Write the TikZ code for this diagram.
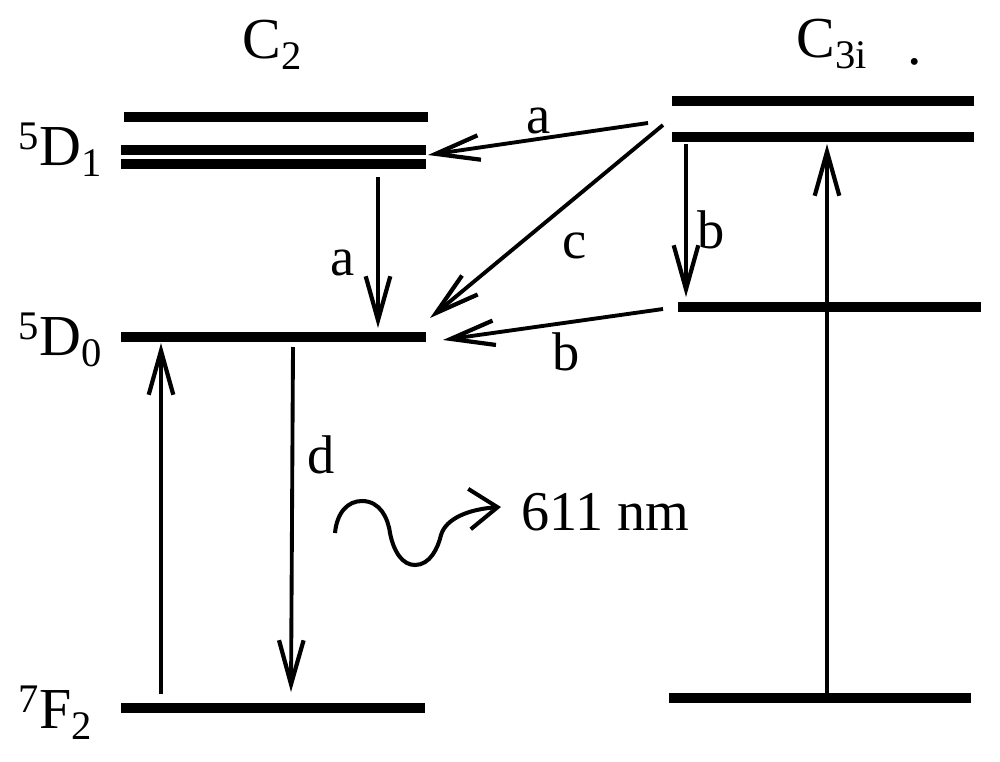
\documentclass[tikz,border=0pt]{standalone}
\usepackage{fontspec}
\setmainfont{Liberation Serif}
\usetikzlibrary{arrows.meta}
\tikzset{
  level/.style={line width=5.5pt},
  trans/.style={line width=2.2pt,-{Straight Barb[length=25pt,width=14pt,line width=2.4pt]}},
  lbl/.style={font=\fontsize{31}{36}\selectfont,inner sep=0pt,anchor=base},
  term/.style={font=\fontsize{33}{38}\selectfont,inner sep=0pt,anchor=base west},
}
\begin{document}
\begin{tikzpicture}[x=0.02cm,y=-0.02cm]
  \useasboundingbox (0,0) rectangle (1000,761);
  % site labels
  \node[term] (cTwo) at (242,58) {C\textsubscript{2}};
  \node[term] (cThree) at (796,57) {C\textsubscript{3i}};
  \node[term] (dot) at (907,64) {.};
  % term labels
  \node[term] (termDOne) at (18,165) {\textsuperscript{5}D\textsubscript{1}};
  \node[term] (termDZero) at (18,355) {\textsuperscript{5}D\textsubscript{0}};
  \node[term] (termFTwo) at (18,728) {\textsuperscript{7}F\textsubscript{2}};
  % levels of C2
  \foreach \name/\xa/\xb/\yy in {la/124/428/117,lb/121/426/150,lc/121/426/164,ld/121/426/337,le/121/425/708}{
    \coordinate (\name W) at (\xa,\yy);
    \coordinate (\name E) at (\xb,\yy);
    \draw[level] (\name W) -- (\name E);
  }
  % levels of C3i
  \foreach \name/\xa/\xb/\yy in {ra/672/974/101,rb/672/974/137,rc/678/981/307,rd/669/971/698}{
    \coordinate (\name W) at (\xa,\yy);
    \coordinate (\name E) at (\xb,\yy);
    \draw[level] (\name W) -- (\name E);
  }
  % transitions
  \coordinate (aFrom) at (648,123);
  \coordinate (aTo) at (428,155);
  \coordinate (aaFrom) at (378,177);
  \coordinate (aaTo) at (378,328);
  \coordinate (cFrom) at (663,125);
  \coordinate (cTo) at (430,318);
  \coordinate (bFrom) at (686,144);
  \coordinate (bTo) at (686,297);
  \coordinate (bbFrom) at (663,309);
  \coordinate (bbTo) at (443,340);
  \coordinate (upFrom) at (161,694);
  \coordinate (upTo) at (161,343);
  \coordinate (dFrom) at (293,347);
  \coordinate (dTo) at (291,692);
  \coordinate (exFrom) at (827,694);
  \coordinate (exTo) at (827,144);
  \draw[trans] (aFrom) -- (aTo);
  \draw[trans] (aaFrom) -- (aaTo);
  \draw[trans] (cFrom) -- (cTo);
  \draw[trans] (bFrom) -- (bTo);
  \draw[trans] (bbFrom) -- (bbTo);
  \draw[trans] (upFrom) -- (upTo);
  \draw[trans] (dFrom) -- (dTo);
  \draw[trans,line width=2.8pt] (exFrom) -- (exTo);
  % labels
  \node[lbl] (aOne) at (539,133) {a};
  \node[lbl] (aTwo) at (343,275) {a};
  \node[lbl] (cOne) at (575,258) {c};
  \node[lbl] (bOne) at (711,248) {b};
  \node[lbl] (bTwo) at (566,370) {b};
  \node[lbl] (dLabel) at (321,473) {d};
  % photon
  \coordinate (wavyFrom) at (335,533);
  \coordinate (wavyTo) at (501,507);
  \draw[line width=2.3pt,-{Straight Barb[length=16pt,width=23pt,line width=2.3pt]}] (wavyFrom)
    .. controls (337,512) and (348,501) .. (362,501)
    .. controls (380,501) and (388,518) .. (390,533)
    .. controls (394,553) and (403,565) .. (415,565)
    .. controls (430,565) and (438,548) .. (441,535)
    .. controls (446,518) and (470,509) .. (wavyTo);
  \node[lbl,anchor=base west,font=\fontsize{32}{36}\selectfont] (wave) at (521,530) {611 nm};
\end{tikzpicture}
\end{document}
